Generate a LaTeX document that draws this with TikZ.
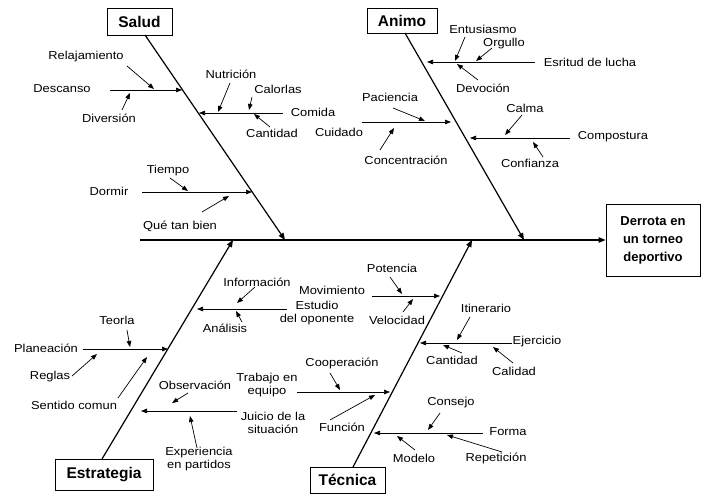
\documentclass[tikz,border=0pt]{standalone}
\usepackage{fontspec}
\setmainfont{Liberation Sans}
\newfontfamily\lblfont{Liberation Sans}[FakeStretch=1.12]
\usetikzlibrary{arrows.meta}

\begin{document}
\begin{tikzpicture}[x=1pt,y=-1pt,
  bone/.style={line width=1.2pt, -{Triangle[length=7pt,width=5.5pt]}},
  twig/.style={line width=0.7pt, -{Triangle[length=6pt,width=4.5pt]}},
  lbl/.style={font=\lblfont\fontsize{11.5}{13}\selectfont, inner sep=1pt, align=center},
  catbox/.style={draw, line width=0.9pt, inner sep=0pt,
    font=\bfseries\fontsize{15.5}{17}\selectfont},
  effectbox/.style={draw, line width=0.9pt, inner sep=0pt, align=center,
    font=\bfseries\fontsize{13}{18}\selectfont},
]
\useasboundingbox (0,0) rectangle (702,494);

% ---------- effect and main spine ----------
\node[effectbox, minimum width=94pt, minimum height=72pt] (effect) at (653,240)
  {Derrota en\\un torneo\\deportivo};
\coordinate (spineS) at (140,240);
\draw[bone] (spineS) -- (spineS -| effect.west);

% ---------- category boxes ----------
\node[catbox, minimum width=65pt, minimum height=27pt] (salud) at (139.5,21.5) {Salud};
\node[catbox, minimum width=70pt, minimum height=25pt] (animo) at (402,20.5) {Animo};
\node[catbox, minimum width=98pt, minimum height=31pt] (estrat) at (104,474.5) {Estrategia};
\node[catbox, minimum width=75pt, minimum height=26pt] (tecnica) at (347.5,480) {Técnica};

% ---------- main bones ----------
\coordinate (saludS) at (145,35);   \coordinate (saludE) at (285,240);
\coordinate (animoS) at (405,33);   \coordinate (animoE) at (524,240);
\coordinate (estratS) at (102,459); \coordinate (estratE) at (233,240);
\coordinate (tecS) at (353,467);    \coordinate (tecE) at (472,240);
\draw[bone] (saludS) -- (saludE);
\draw[bone] (animoS) -- (animoE);
\draw[bone] (estratS) -- (estratE);
\draw[bone] (tecS) -- (tecE);

% =================== Salud ===================
\node[lbl] (descanso) at (62,89) {Descanso};
\coordinate (descS) at (110,90); \coordinate (descE) at (182,90);
\draw[twig] (descS) -- (descE);
\node[lbl] (relaj) at (86,57) {Relajamiento};
\coordinate (relajS) at (127,66); \coordinate (relajE) at (154,89);
\draw[twig] (relajS) -- (relajE);
\node[lbl] (divers) at (109,118) {Diversión};
\coordinate (diverS) at (122,110); \coordinate (diverE) at (130,93);
\draw[twig] (diverS) -- (diverE);

\node[lbl] (comida) at (313,112) {Comida};
\coordinate (comS) at (283,113); \coordinate (comE) at (199,113);
\draw[twig] (comS) -- (comE);
\node[lbl] (nutri) at (231,74) {Nutrición};
\coordinate (nutS) at (230,83); \coordinate (nutE) at (218,112);
\draw[twig] (nutS) -- (nutE);
\node[lbl] (calor) at (278,89) {Calorlas};
\coordinate (calS) at (252,97); \coordinate (calE) at (249,110);
\draw[twig] (calS) -- (calE);
\node[lbl] (cant1) at (272,133) {Cantidad};
\coordinate (can1S) at (270,127); \coordinate (can1E) at (254,114);
\draw[twig] (can1S) -- (can1E);

\node[lbl] (dormir) at (109,191) {Dormir};
\coordinate (dorS) at (142,192); \coordinate (dorE) at (252,192);
\draw[twig] (dorS) -- (dorE);
\node[lbl] (tiempo) at (168,171) {Tiempo};
\coordinate (tieS) at (170,178); \coordinate (tieE) at (188,191);
\draw[twig] (tieS) -- (tieE);
\node[lbl] (quetan) at (180,226) {Qué tan bien};
\coordinate (queS) at (202,212); \coordinate (queE) at (229,196);
\draw[twig] (queS) -- (queE);

% =================== Animo ===================
\node[lbl] (espir) at (590,62) {Esritud de lucha};
\coordinate (espS) at (535,62); \coordinate (espE) at (427,62);
\draw[twig] (espS) -- (espE);
\node[lbl] (entus) at (483,29) {Entusiasmo};
\coordinate (entS) at (465,37); \coordinate (entE) at (455,61);
\draw[twig] (entS) -- (entE);
\node[lbl] (orgullo) at (504,44) {Orgullo};
\coordinate (orgS) at (492,48); \coordinate (orgE) at (476,61);
\draw[twig] (orgS) -- (orgE);
\node[lbl] (devoc) at (483,88) {Devoción};
\coordinate (devS) at (478,80); \coordinate (devE) at (457,64);
\draw[twig] (devS) -- (devE);

\node[lbl] (cuidado) at (339,132) {Cuidado};
\coordinate (cuiS) at (362,122); \coordinate (cuiE) at (451,122);
\draw[twig] (cuiS) -- (cuiE);
\node[lbl] (pacien) at (390,97) {Paciencia};
\coordinate (pacS) at (393,108); \coordinate (pacE) at (425,121);
\draw[twig] (pacS) -- (pacE);
\node[lbl] (concen) at (406,160) {Concentración};
\coordinate (conS) at (380,150); \coordinate (conE) at (394,128);
\draw[twig] (conS) -- (conE);

\node[lbl] (compos) at (613,137) {Compostura};
\coordinate (cmpS) at (570,138); \coordinate (cmpE) at (470,138);
\draw[twig] (cmpS) -- (cmpE);
\node[lbl] (calma) at (525,108) {Calma};
\coordinate (clmS) at (522,115); \coordinate (clmE) at (505,135);
\draw[twig] (clmS) -- (clmE);
\node[lbl] (confia) at (530,163) {Confianza};
\coordinate (cnfS) at (543,157); \coordinate (cnfE) at (533,142);
\draw[twig] (cnfS) -- (cnfE);

% =================== Estrategia ===================
\node[lbl] (estudio) at (317,313) {Estudio\\del oponente};
\coordinate (estS) at (287,309); \coordinate (estE) at (197,309);
\draw[twig] (estS) -- (estE);
\node[lbl] (inform) at (257,282) {Información};
\coordinate (infS) at (255,287); \coordinate (infE) at (237,303);
\draw[twig] (infS) -- (infE);
\node[lbl] (analis) at (225,328) {Análisis};
\coordinate (anaS) at (242,322); \coordinate (anaE) at (236,311);
\draw[twig] (anaS) -- (anaE);

\node[lbl] (planea) at (46,348) {Planeación};
\coordinate (plaS) at (83,349); \coordinate (plaE) at (168,349);
\draw[twig] (plaS) -- (plaE);
\node[lbl] (teoria) at (117,320) {Teorla};
\coordinate (teoS) at (127,330); \coordinate (teoE) at (130,347);
\draw[twig] (teoS) -- (teoE);
\node[lbl] (reglas) at (50,377) {Reglas};
\coordinate (regS) at (72,376); \coordinate (regE) at (97,354);
\draw[twig] (regS) -- (regE);
\node[lbl] (sentido) at (74,405) {Sentido comun};
\coordinate (senS) at (118,398); \coordinate (senE) at (147,357);
\draw[twig] (senS) -- (senE);

\node[lbl] (juicio) at (273,423) {Juicio de la\\situación};
\coordinate (juiS) at (237,411); \coordinate (juiE) at (141,411);
\draw[twig] (juiS) -- (juiE);
\node[lbl] (observ) at (195,385) {Observación};
\coordinate (obsS) at (188,393); \coordinate (obsE) at (172,403);
\draw[twig] (obsS) -- (obsE);
\node[lbl] (experi) at (199,459) {Experiencia\\en partidos};
\coordinate (expS) at (197,448); \coordinate (expE) at (190,416);
\draw[twig] (expS) -- (expE);

% =================== Técnica ===================
\node[lbl] (movim) at (332,290) {Movimiento};
\coordinate (movS) at (372,296); \coordinate (movE) at (440,296);
\draw[twig] (movS) -- (movE);
\node[lbl] (potenc) at (392,268) {Potencia};
\coordinate (potS) at (390,277); \coordinate (potE) at (402,294);
\draw[twig] (potS) -- (potE);
\node[lbl] (veloc) at (397,320) {Velocidad};
\coordinate (velS) at (403,312); \coordinate (velE) at (413,299);
\draw[twig] (velS) -- (velE);

\node[lbl] (ejerc) at (537,342) {Ejercicio};
\coordinate (ejeS) at (512,343); \coordinate (ejeE) at (420,343);
\draw[twig] (ejeS) -- (ejeE);
\node[lbl] (itiner) at (486,308) {Itinerario};
\coordinate (itiS) at (470,317); \coordinate (itiE) at (457,340);
\draw[twig] (itiS) -- (itiE);
\node[lbl] (cant2) at (452,360) {Cantidad};
\coordinate (can2S) at (462,353); \coordinate (can2E) at (443,345);
\draw[twig] (can2S) -- (can2E);
\node[lbl] (calidad) at (514,371) {Calidad};
\coordinate (cldS) at (513,363); \coordinate (cldE) at (493,347);
\draw[twig] (cldS) -- (cldE);

\node[lbl] (trabajo) at (267,385) {Trabajo en\\equipo};
\coordinate (traS) at (297,392); \coordinate (traE) at (390,392);
\draw[twig] (traS) -- (traE);
\node[lbl] (cooper) at (342,363) {Cooperación};
\coordinate (cooS) at (330,373); \coordinate (cooE) at (340,390);
\draw[twig] (cooS) -- (cooE);
\node[lbl] (funcion) at (342,427) {Función};
\coordinate (funS) at (330,420); \coordinate (funE) at (375,395);
\draw[twig] (funS) -- (funE);

\node[lbl] (forma) at (508,432) {Forma};
\coordinate (forS) at (483,433); \coordinate (forE) at (374,433);
\draw[twig] (forS) -- (forE);
\node[lbl] (consejo) at (451,403) {Consejo};
\coordinate (cjoS) at (440,413); \coordinate (cjoE) at (428,430);
\draw[twig] (cjoS) -- (cjoE);
\node[lbl] (modelo) at (414,458) {Modelo};
\coordinate (modS) at (415,450); \coordinate (modE) at (397,436);
\draw[twig] (modS) -- (modE);
\node[lbl] (repet) at (496,458) {Repetición};
\coordinate (repS) at (502,452); \coordinate (repE) at (447,435);
\draw[twig] (repS) -- (repE);
\end{tikzpicture}
\end{document}
